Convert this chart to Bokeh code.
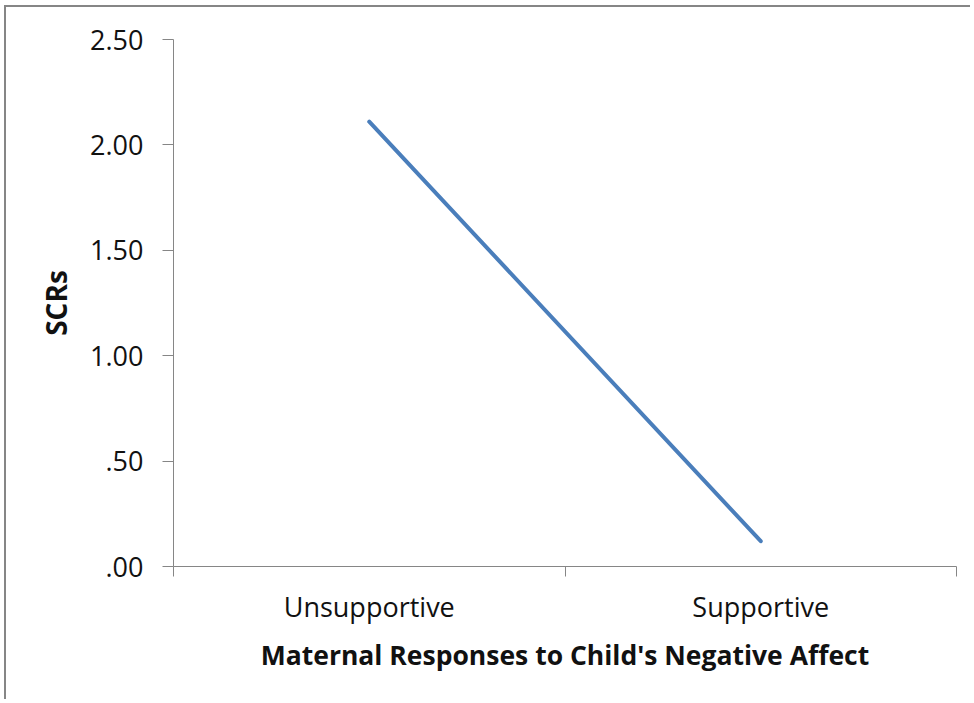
from bokeh.plotting import figure
from bokeh.models import Range1d, LinearAxis, FixedTicker, ColumnDataSource
from bokeh.embed import file_html
from bokeh.resources import INLINE

# ---- data ----
categories = ["Unsupportive", "Supportive"]
scrs = [2.11, 0.12]
y_ticks = [0.0, 0.5, 1.0, 1.5, 2.0, 2.5]
y_tick_labels = [".00", ".50", "1.00", "1.50", "2.00", "2.50"]
x_title = "Maternal Responses to Child's Negative Affect"
y_title = "SCRs"

FONT = "Open Sans"
AXIS_GRAY = "#868686"

# category slots: each category occupies one unit, centred at i + 0.5
cat_pos = [i + 0.5 for i in range(len(categories))]
edges = list(range(len(categories) + 1))

p = figure(
    x_range=Range1d(0, len(categories)),
    y_range=Range1d(0, 2.5),
    width=966, height=694,
    min_border_left=167, min_border_top=32, min_border_right=16, min_border_bottom=135,
    x_axis_location=None, y_axis_location=None,
    output_backend="svg", toolbar_location=None,
)
p.styles = {"border-left": "2px solid #868686", "border-top": "2px solid #868686",
            "margin-left": "4px", "margin-top": "5px"}
p.xgrid.visible = False
p.ygrid.visible = False
p.outline_line_color = None
p.background_fill_color = "white"
p.border_fill_color = "white"

# y axis
yax = LinearAxis(ticker=FixedTicker(ticks=y_ticks),
                 major_label_overrides={t: l for t, l in zip(y_ticks, y_tick_labels)})
yax.axis_line_color = AXIS_GRAY
yax.major_tick_line_color = AXIS_GRAY
yax.major_tick_in = 0
yax.major_tick_out = 11
yax.minor_tick_line_color = None
yax.major_label_standoff = 19
yax.major_label_text_font = FONT
yax.major_label_text_font_size = "27px"
yax.major_label_text_color = "#111111"
yax.axis_label = y_title
yax.axis_label_text_font = FONT
yax.axis_label_text_font_size = "28px"
yax.axis_label_text_font_style = "bold"
yax.axis_label_text_color = "#111111"
yax.axis_label_standoff = 12
p.add_layout(yax, "left")

# x edge ticks axis (no labels)
eax = LinearAxis(ticker=FixedTicker(ticks=edges),
                 major_label_overrides={e: "" for e in edges})
eax.axis_line_color = AXIS_GRAY
eax.major_tick_line_color = AXIS_GRAY
eax.major_tick_in = 0
eax.major_tick_out = 10
eax.minor_tick_line_color = None
eax.major_label_text_font_size = "1px"
eax.major_label_standoff = 0
p.add_layout(eax, "below")

# category labels axis
cax = LinearAxis(ticker=FixedTicker(ticks=cat_pos),
                 major_label_overrides={c: n for c, n in zip(cat_pos, categories)})
cax.axis_line_color = None
cax.major_tick_line_color = None
cax.minor_tick_line_color = None
cax.major_tick_out = 0
cax.major_tick_in = 0
cax.major_label_standoff = 11
cax.major_label_text_font = FONT
cax.major_label_text_font_size = "27px"
cax.major_label_text_color = "#111111"
cax.axis_label = x_title
cax.axis_label_text_font = FONT
cax.axis_label_text_font_size = "26.5px"
cax.axis_label_text_font_style = "bold"
cax.axis_label_text_color = "#111111"
cax.axis_label_standoff = 9
p.add_layout(cax, "below")

src = ColumnDataSource(dict(x=cat_pos, y=scrs, cat=categories))
p.line(x="x", y="y", source=src, line_color="#4A7EBB", line_width=4, line_cap="round")

open("out.html", "w").write(file_html(p, INLINE))
